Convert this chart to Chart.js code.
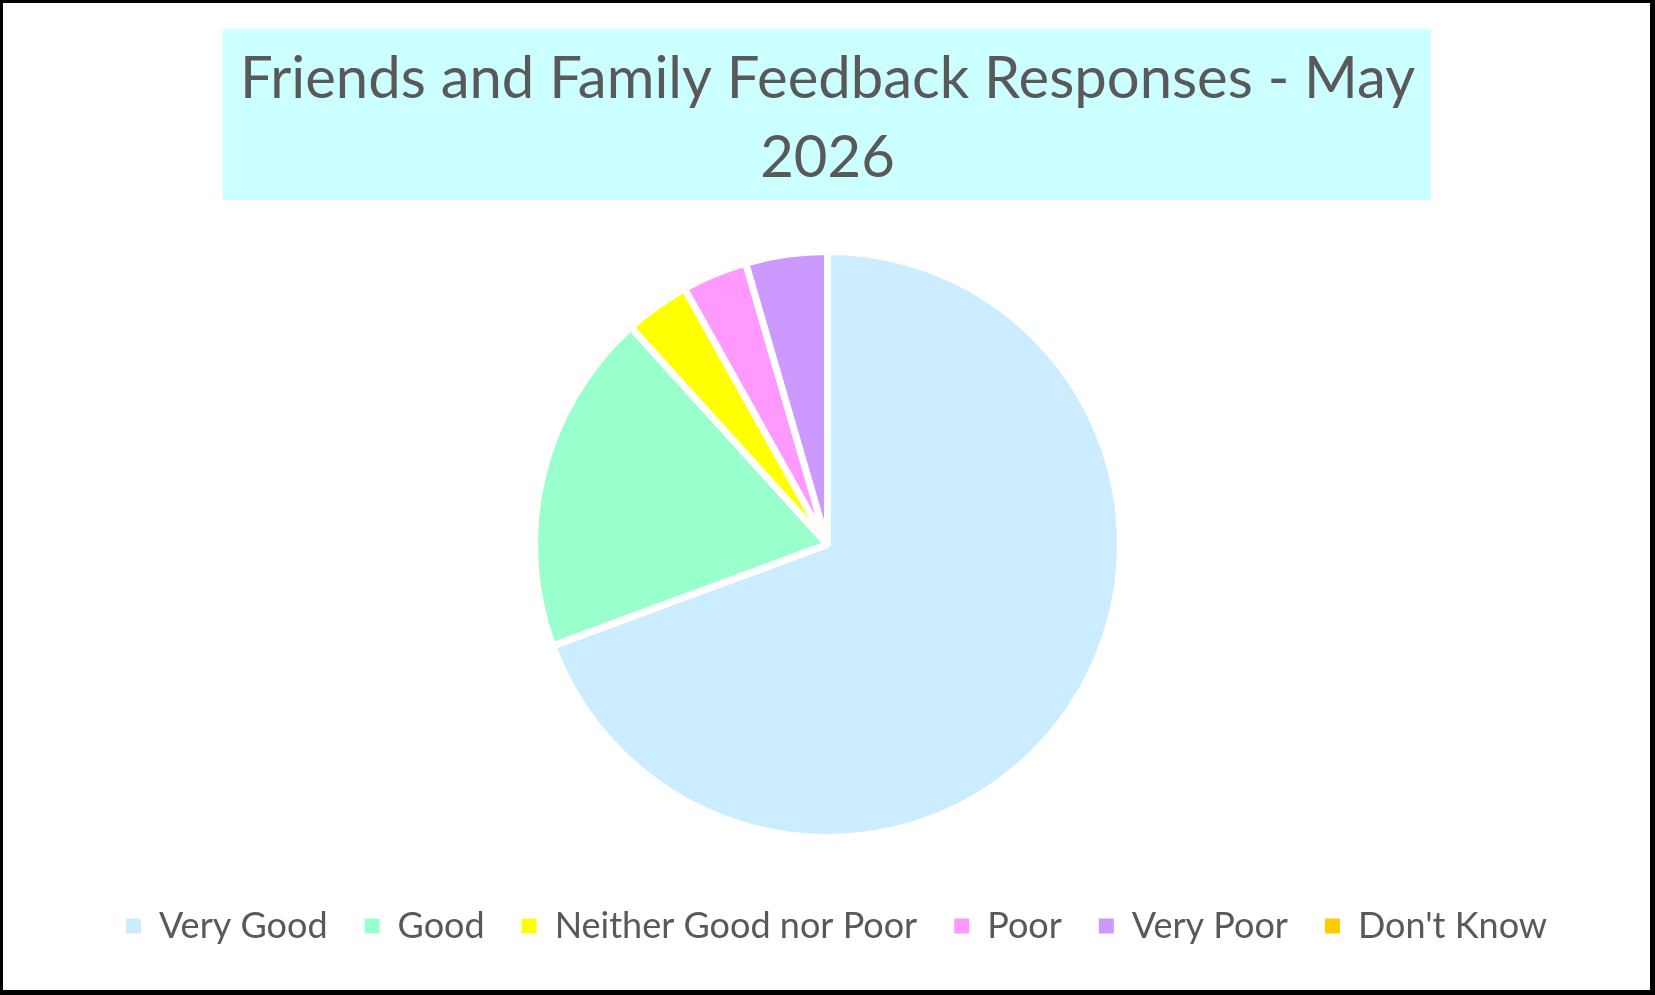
<!DOCTYPE html>
<html>
<head>
<meta charset="utf-8">
<script src="https://cdn.jsdelivr.net/npm/chart.js@4"></script>
<style>
  html, body { margin: 0; padding: 0; background: #ffffff; }
  #wrap { position: absolute; left: 0; top: 0; width: 1655px; height: 995px; }
</style>
</head>
<body>
<div id="wrap"><canvas id="pieChart" width="1655" height="995"></canvas></div>
<script>
// Datos del gráfico
const titleLines = ["Friends and Family Feedback Responses - May", "2026"];
const categories = ["Very Good", "Good", "Neither Good nor Poor", "Poor", "Very Poor", "Don't Know"];
const responses = [77, 21, 4, 4, 5, 0];
const sliceColors = ["#CCECFF", "#99FFCC", "#FFFF00", "#FF99FF", "#CC99FF", "#FFCC00"];

const textColor = "#595959";
const fontFamily = "Lato, 'Liberation Sans', sans-serif";

// Fondo del título, marco negro y leyenda un poco a la derecha
const framePlugin = {
  id: "frame",
  afterLayout(chart) {
    chart.legend.left += 9;
    chart.legend.right += 9;
  },
  beforeDraw(chart) {
    const ctx = chart.ctx;
    ctx.save();
    ctx.fillStyle = "#ffffff";
    ctx.fillRect(0, 0, chart.width, chart.height);
    ctx.fillStyle = "#CCFFFF";
    ctx.fillRect(223, 29, 1208, 171);
    ctx.restore();
  },
  afterDraw(chart) {
    const ctx = chart.ctx;
    const w = chart.width, h = chart.height;
    ctx.save();
    ctx.fillStyle = "#000000";
    ctx.fillRect(0, 0, w, 3);
    ctx.fillRect(0, 0, 3, h);
    ctx.fillRect(w - 5, 0, 5, h);
    ctx.fillRect(0, h - 5, w, 5);
    ctx.restore();
  },
};

const ctx = document.getElementById("pieChart").getContext("2d");

new Chart(ctx, {
  type: "pie",
  data: {
    labels: categories,
    datasets: [
      {
        data: responses,
        backgroundColor: sliceColors,
        borderColor: "#ffffff",
        borderWidth: 7,
      },
    ],
  },
  options: {
    responsive: false,
    animation: false,
    radius: 293,
    layout: { padding: { top: 0, bottom: 41, left: 0, right: 0 } },
    plugins: {
      title: {
        display: true,
        text: titleLines,
        color: textColor,
        font: { family: fontFamily, size: 58, weight: "normal", lineHeight: 1.36 },
        padding: { top: 40, bottom: 20 },
      },
      legend: {
        position: "bottom",
        labels: {
          color: textColor,
          font: { family: fontFamily, size: 36 },
          boxWidth: 15,
          boxHeight: 15,
          padding: 37,
          // cuadros sin borde blanco
          generateLabels(chart) {
            const items = Chart.overrides.pie.plugins.legend.labels.generateLabels(chart);
            return items.map((it) => ({ ...it, lineWidth: 0 }));
          },
        },
      },
      tooltip: { enabled: false },
    },
  },
  plugins: [framePlugin],
});
</script>
</body>
</html>
